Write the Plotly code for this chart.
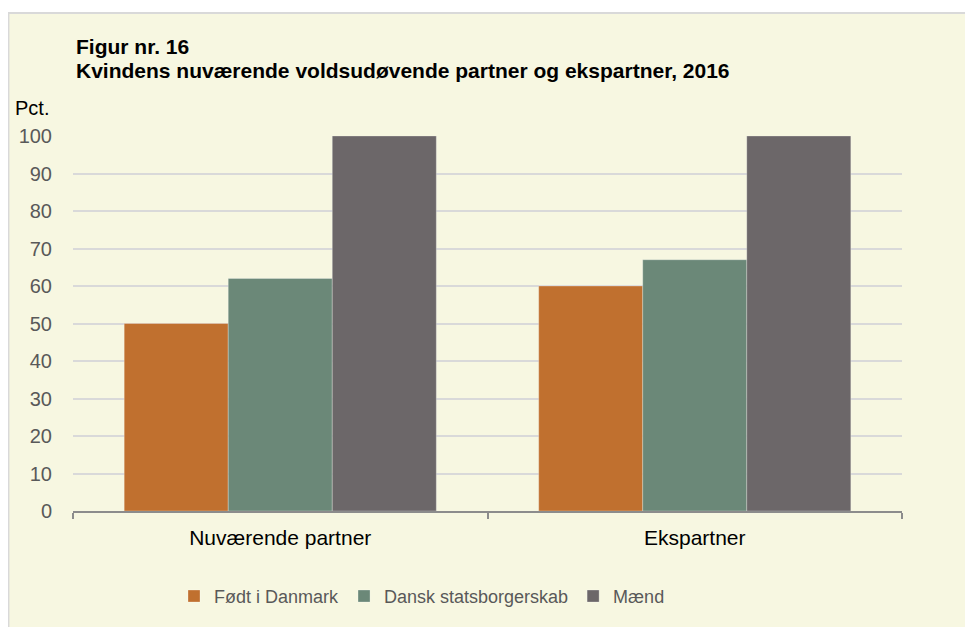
import plotly.graph_objects as go

categories = ["Nuværende partner", "Ekspartner"]
series_names = ["Født i Danmark", "Dansk statsborgerskab", "Mænd"]
foedt_i_danmark = [50, 60]
dansk_statsborgerskab = [62, 67]
maend = [100, 100]
y_ticks = list(range(0, 101, 10))

colors = ["#C0702F", "#6B8878", "#6C6769"]
values = [foedt_i_danmark, dansk_statsborgerskab, maend]

# page has an 8px body margin: figure pixel = screen pixel - 8
OFF = 8
W, H = 973 - OFF, 627 - OFF
L, R, T, B = 73, 902, 136, 514  # plot area in screen pixels


def px_x(p):
    return (p - L) / (R - L)


def px_y(p):
    return (B - p) / (B - T)


FONT = "Liberation Sans, Arial, sans-serif"
CREAM = "#F7F7E1"

fig = go.Figure()
for name, vals, col in zip(series_names, values, colors):
    fig.add_trace(go.Bar(
        x=categories, y=vals, name=name,
        marker=dict(color=col, line=dict(color="rgba(255,255,255,0.35)", width=0.8)),
    ))

shapes = [
    dict(type="rect", xref="paper", yref="paper", x0=px_x(0), x1=px_x(980), y0=px_y(0), y1=px_y(11),
         fillcolor="white", line=dict(width=0), layer="below"),
    dict(type="line", xref="paper", yref="paper", x0=px_x(8.7), x1=px_x(8.7), y0=px_y(11), y1=px_y(640),
         line=dict(color="#D9D9D9", width=1.5), layer="below"),
    dict(type="line", xref="paper", yref="paper", x0=px_x(8), x1=px_x(980), y0=px_y(12), y1=px_y(12),
         line=dict(color="#D9D9D9", width=2), layer="below"),
]

annotations = [
    dict(text="<b>Figur nr. 16</b>", xref="paper", yref="paper", x=px_x(74), y=px_y(46),
         xanchor="left", yanchor="middle", showarrow=False,
         font=dict(family=FONT, size=21, color="#000000")),
    dict(text="<b>Kvindens nuværende voldsudøvende partner og ekspartner, 2016</b>", xref="paper", yref="paper",
         x=px_x(74), y=px_y(70), xanchor="left", yanchor="middle", showarrow=False,
         font=dict(family=FONT, size=21, color="#000000")),
    dict(text="Pct.", xref="paper", yref="paper", x=px_x(13), y=px_y(108),
         xanchor="left", yanchor="middle", showarrow=False,
         font=dict(family=FONT, size=20, color="#000000")),
]

fig.update_layout(
    width=W, height=H,
    margin=dict(l=L - OFF, r=W - (R - OFF), t=T - OFF, b=H - (B - OFF), pad=0),
    paper_bgcolor=CREAM, plot_bgcolor=CREAM,
    barmode="group", bargap=0.247, bargroupgap=0,
    font=dict(family=FONT, size=20, color="#595959"),
    shapes=shapes, annotations=annotations,
    legend=dict(orientation="h", x=px_x(174), xanchor="left", y=px_y(600), yanchor="middle",
                font=dict(family=FONT, size=18, color="#595959"), bgcolor="rgba(0,0,0,0)",
                traceorder="normal"),
    xaxis=dict(type="category", showline=True, linecolor="#8C8C8C", linewidth=1.5,
               ticks="outside", tickson="boundaries", ticklen=6, tickcolor="#8C8C8C", tickwidth=1.5,
               ticklabelstandoff=7,
               tickfont=dict(family=FONT, size=21, color="#000000"), showgrid=False),
    yaxis=dict(range=[0, 100], tickvals=y_ticks, showgrid=True, gridcolor="#D9D9D9", gridwidth=1.5,
               zeroline=False, ticks="", ticklabelstandoff=20,
               tickfont=dict(family=FONT, size=20, color="#595959")),
)

fig.write_html("out.html")
